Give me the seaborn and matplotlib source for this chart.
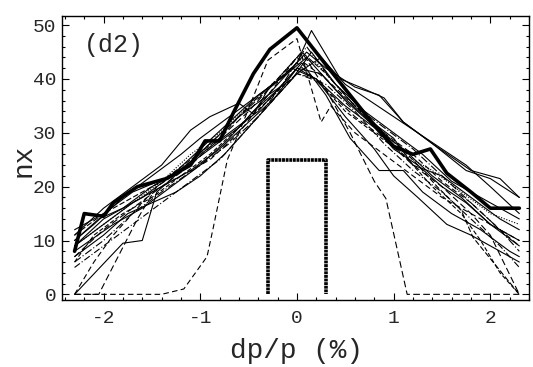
import matplotlib
matplotlib.use("Agg")
import matplotlib.pyplot as plt
from matplotlib.ticker import MultipleLocator
import seaborn as sns

# Horizontal-tune distributions nx versus momentum deviation dp/p (%)
main_x = [-2.3, -2.2, -2.0, -1.9, -1.65, -1.35, -1.1, -0.95, -0.8, -0.65, -0.45, -0.28,
          0.0, 0.35, 0.55, 0.75, 1.0, 1.2, 1.38, 1.55, 1.8, 2.0, 2.3]
main_y = [8, 15, 14.5, 17, 20, 21.5, 24, 28.5, 28.5, 34, 41, 45.5,
          49.5, 41.5, 37, 32.5, 27.5, 26, 27, 22.5, 19, 16, 16]

box_x = [-0.3, -0.3, 0.3, 0.3]
box_y = [0, 25, 25, 0]

s1_x = [-2.3, -2.0, -1.7, -1.4, -1.1, -0.9, -0.6, -0.45, -0.3, 0.0, 0.15, 0.45, 0.65, 0.9, 1.1, 1.4, 1.8, 2.1, 2.3]
s1_y = [11, 16, 20, 24, 30.5, 33, 35.5, 33.5, 38, 43, 49, 40, 38.5, 36.5, 32, 28, 23, 21.5, 18]

s2_x = [-2.3, -2.1, -1.9, -1.7, -1.5, -1.2, -0.9, -0.6, -0.3, 0.0, 0.3, 0.6, 0.9, 1.2, 1.5, 1.8, 2.1, 2.3]
s2_y = [0, 6, 11, 15, 19, 22, 25, 30, 37, 44, 40, 35, 30, 26, 21, 17, 12, 9]

s3_x = [-2.3, -2.05, -1.65, -1.45, -1.2, -0.9, -0.6, -0.3, 0.0, 0.3, 0.6, 0.9, 1.2, 1.5, 1.8, 2.0, 2.3]
s3_y = [0, 0, 14, 20, 23, 28, 33, 38, 43, 38, 33, 29, 24, 20, 15, 11, 0]

s4_x = [-2.3, -1.4, -1.17, -0.93, -0.87, -0.72, -0.6, -0.3, 0.0, 0.25, 0.35, 0.6, 0.9, 1.2, 1.5, 1.8, 2.1, 2.3]
s4_y = [0, 0, 1, 7, 12, 25, 30, 43.5, 47.5, 32, 35, 30, 26, 22, 18, 15, 12, 10]

s5_x = [-2.3, -2.0, -1.7, -1.4, -1.1, -0.8, -0.5, -0.2, 0.05, 0.3, 0.55, 0.8, 0.92, 1.14, 2.3]
s5_y = [7, 12, 16, 20, 24, 29, 34, 40, 45, 38, 30, 21, 17.8, 0, 0]

s6_x = [-2.3, -1.8, -1.6, -1.45, -1.2, -0.9, -0.6, -0.3, -0.05, 0.2, 0.5, 0.8, 1.1, 1.4, 1.7, 2.0, 2.3]
s6_y = [0, 9.5, 10, 19, 23, 27, 31, 37, 42, 40, 35, 31, 27, 22, 18, 13, 9]

s7_x = [-2.3, -2.1, -1.8, -1.5, -1.2, -1.0, -0.7, -0.4, -0.1, 0.1, 0.4, 0.7, 1.0, 1.2, 1.5, 1.8, 2.1, 2.3]
s7_y = [10, 13, 18, 22, 26, 29, 33, 37, 41, 44, 38, 33, 29, 24, 22, 18, 14, 12]

s8_x = [-2.3, -2.0, -1.7, -1.4, -1.1, -0.8, -0.5, -0.2, 0.0, 0.3, 0.6, 0.9, 1.2, 1.5, 1.8, 2.1, 2.3]
s8_y = [5, 9, 13, 17, 21, 25, 31, 37, 41, 39, 34, 28, 23, 19, 14, 9, 5]

s9_x = [-2.3, -2.0, -1.6, -1.3, -1.0, -0.7, -0.4, -0.15, 0.05, 0.3, 0.55, 0.85, 1.1, 1.3, 1.6, 1.9, 2.2, 2.3]
s9_y = [9, 14, 18, 22, 26, 30, 34, 39, 43, 37, 29, 23, 23, 19, 15, 12, 8, 7]

s10_x = [-2.3, -2.0, -1.7, -1.3, -1.0, -0.7, -0.4, -0.1, 0.1, 0.3, 0.6, 0.85, 1.1, 1.4, 1.75, 2.0, 2.3]
s10_y = [12, 15, 19, 22, 27, 32, 37, 41, 45, 42, 38.5, 37, 32, 28, 23, 21.5, 18]

s11_x = [-2.3, -2.1, -1.8, -1.5, -1.2, -0.9, -0.6, -0.3, 0.0, 0.2, 0.5, 0.8, 1.1, 1.4, 1.7, 1.9, 2.1, 2.3]
s11_y = [6, 11, 15, 18, 22, 26, 31, 36, 41, 40, 34, 30, 26, 20, 15, 10, 4, 0]

s12_x = [-2.3, -2.0, -1.75, -1.5, -1.25, -1.0, -0.75, -0.5, -0.25, 0.0, 0.25, 0.5, 0.75, 1.0, 1.25, 1.5, 1.75, 2.0, 2.3]
s12_y = [7, 11, 15, 17, 19, 22, 26, 31, 36, 42, 41, 36, 32, 27, 24, 20, 17, 13, 10]

s13_x = [-2.3, -2.0, -1.7, -1.4, -1.1, -0.8, -0.5, -0.2, 0.0, 0.2, 0.5, 0.8, 1.1, 1.4, 1.7, 2.0, 2.3]
s13_y = [9, 13, 17, 21, 26, 30, 35, 40, 44, 43, 37, 31, 26, 23, 19, 15, 13]

s14_x = [-2.3, -1.9, -1.6, -1.3, -1.0, -0.7, -0.45, -0.2, 0.0, 0.2, 0.5, 0.8, 1.0, 1.25, 1.55, 1.8, 2.1, 2.3]
s14_y = [8, 13, 16, 20, 24, 29, 34, 38, 42, 40, 33, 27, 22, 18, 13, 11, 8, 6]

s15_x = [-2.3, -2.0, -1.7, -1.4, -1.1, -0.8, -0.5, -0.2, 0.05, 0.3, 0.6, 0.9, 1.2, 1.45, 1.7, 1.82, 2.3]
s15_y = [11, 15, 18, 21, 25, 29, 35, 40, 45, 41, 35, 30, 25, 20, 15.6, 10.6, 0]

s16_x = [-2.3, -2.05, -1.8, -1.5, -1.2, -0.9, -0.6, -0.3, -0.05, 0.15, 0.4, 0.7, 1.0, 1.3, 1.6, 1.9, 2.2, 2.3]
s16_y = [10, 14, 16, 20, 23, 28, 33, 37, 40, 45, 39, 34, 30, 26, 21, 18, 15, 14]

s17_x = [-2.3, -2.0, -1.7, -1.4, -1.0, -0.7, -0.4, -0.15, 0.1, 0.35, 0.6, 0.9, 1.2, 1.5, 1.8, 2.1, 2.3]
s17_y = [6, 10, 15, 19, 24, 28, 33, 39, 46, 40, 35, 31, 27, 22, 17, 12, 8]

s18_x = [-2.3, -2.0, -1.7, -1.4, -1.1, -0.8, -0.5, -0.2, 0.0, 0.25, 0.5, 0.75, 1.0, 1.25, 1.5, 1.75, 2.0, 2.3]
s18_y = [9, 13, 17, 20, 23, 27, 32, 37, 41, 44, 39, 36, 33, 30, 27, 24, 20, 15]

thin_series = [
    (s1_x, s1_y, "-"), (s2_x, s2_y, (0, (5, 3))), (s3_x, s3_y, (0, (6, 3))),
    (s4_x, s4_y, (0, (5, 3))), (s5_x, s5_y, (0, (6, 3))), (s6_x, s6_y, "-"),
    (s7_x, s7_y, "-"), (s8_x, s8_y, (0, (6, 2, 1, 2))), (s9_x, s9_y, "-"),
    (s10_x, s10_y, "-"), (s11_x, s11_y, (0, (4, 2))), (s12_x, s12_y, "-"),
    (s13_x, s13_y, (0, (1, 1.5))), (s14_x, s14_y, "-"), (s15_x, s15_y, (0, (5, 2))),
    (s16_x, s16_y, "-"), (s17_x, s17_y, (0, (7, 2, 1, 2))), (s18_x, s18_y, "-"),
]

sns.set_style("ticks")
plt.rcParams["font.family"] = ["Liberation Mono", "DejaVu Sans Mono"]

fig = plt.figure(figsize=(5.33, 3.67), dpi=100)
ax = fig.add_axes([62 / 533, 67 / 367, 467 / 533, 284 / 367])

for xs, ys, ls in thin_series:
    sns.lineplot(x=xs, y=ys, ax=ax, sort=False, estimator=None,
                 color="black", linewidth=0.8, linestyle=ls)

sns.lineplot(x=main_x, y=main_y, ax=ax, sort=False, estimator=None,
             color="black", linewidth=2.6)
sns.lineplot(x=box_x, y=box_y, ax=ax, sort=False, estimator=None,
             color="black", linewidth=2.6, linestyle=(0, (0.8, 0.2)))

ax.set_xlim(-2.43, 2.40)
ax.set_ylim(-1.05, 51.7)

ax.xaxis.set_major_locator(MultipleLocator(1))
ax.xaxis.set_minor_locator(MultipleLocator(0.2))
ax.yaxis.set_major_locator(MultipleLocator(10))
ax.yaxis.set_minor_locator(MultipleLocator(2))
ax.tick_params(which="both", direction="in", top=True, right=True,
               color="black", width=0.8)
ax.tick_params(which="major", length=5, labelsize=14, pad=4)
ax.tick_params(which="minor", length=2.5)
ax.tick_params(axis="x", which="major", pad=7)
ax.set_xticks([-2, -1, 0, 1, 2])
ax.set_xticklabels(["-2", "-1", "0", "1", "2"])

for side in ax.spines.values():
    side.set_color("black")
    side.set_linewidth(1.0)

ax.text(-2.2, 46.3, "(d2)", fontsize=18, va="center", ha="left")
ax.set_xlabel("dp/p (%)", fontsize=20, va="center")
ax.xaxis.set_label_coords(0.503, -0.18)
ax.set_ylabel("nx", fontsize=20, va="center")
ax.yaxis.set_label_coords(-0.083, 0.493)

fig.savefig("out.png", dpi=100, facecolor="white")
